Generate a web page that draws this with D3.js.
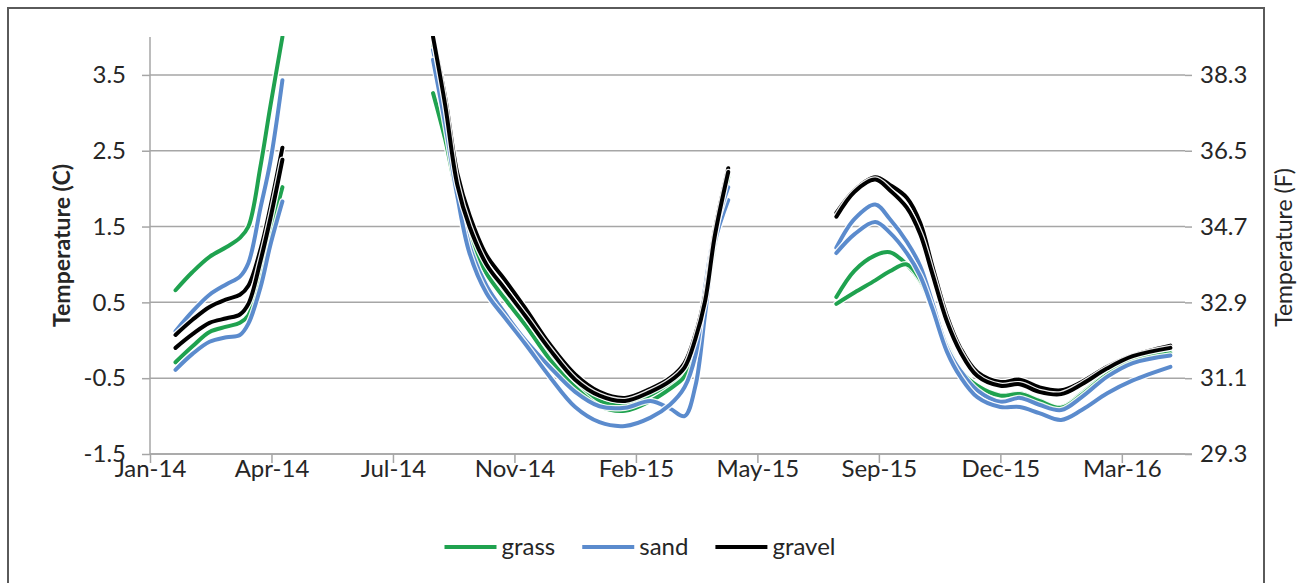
<!DOCTYPE html>
<html>
<head>
<meta charset="utf-8">
<script src="https://cdn.jsdelivr.net/npm/d3@7"></script>
<style>
  body { margin: 0; background: #fff; }
  svg { display: block; }
  text { font-family: Lato, "Open Sans", sans-serif; fill: #262626; }
</style>
</head>
<body>
<svg id="chart" width="1303" height="583"></svg>
<script>
// Sampling dates; null entries mark gaps between logging periods
const dates = [
  "2014-01-31","2014-02-14","2014-02-28","2014-03-14","2014-03-25","2014-04-01","2014-04-11","2014-04-19","2014-04-29",
  null,
  "2014-08-31","2014-09-10","2014-09-20","2014-09-30","2014-10-14","2014-10-29","2014-11-15","2014-12-05","2014-12-26",
  "2015-01-15","2015-02-05","2015-02-26","2015-03-14","2015-03-26","2015-04-04","2015-04-12","2015-04-20","2015-05-01",
  null,
  "2015-07-29","2015-08-13","2015-08-30","2015-09-11","2015-09-25","2015-10-06","2015-10-16","2015-10-28","2015-11-08",
  "2015-11-22","2015-12-11","2015-12-27","2016-01-12","2016-01-30","2016-02-16","2016-03-08","2016-03-29","2016-04-29"
];

// Temperatures (C), two sensors per surface
const grass1 = [
  0.66, 0.90, 1.10, 1.23, 1.35, 1.50, 2.30, 3.08, 4.00,
  null,
  3.90, 3.05, 2.10, 1.50, 0.98, 0.65, 0.30, -0.15, -0.55, -0.80, -0.86, -0.72, -0.58, -0.42, -0.05, 0.50, 1.30, 2.20,
  null,
  0.57, 0.92, 1.12, 1.16, 1.00, 0.78, 0.42, -0.05, -0.38, -0.60, -0.72, -0.70, -0.79, -0.88, -0.70, -0.43, -0.26, -0.15
];
const grass2 = [
  -0.29, -0.08, 0.11, 0.18, 0.23, 0.33, 0.85, 1.40, 2.02,
  null,
  3.26, 2.65, 1.90, 1.35, 0.88, 0.55, 0.20, -0.25, -0.62, -0.87, -0.93, -0.80, -0.64, -0.48, -0.12, 0.45, 1.25, 2.15,
  null,
  0.48, 0.63, 0.79, 0.91, 1.00, 0.80, 0.45, -0.08, -0.40, -0.60, -0.73, -0.71, -0.80, -0.89, -0.72, -0.45, -0.27, -0.17
];
const sand1 = [
  0.12, 0.38, 0.60, 0.74, 0.84, 1.02, 1.75, 2.35, 3.43,
  null,
  3.83, 3.00, 2.00, 1.25, 0.72, 0.36, 0.00, -0.35, -0.68, -0.87, -0.89, -0.80, -0.90, -1.00, -0.60, 0.35, 1.30, 1.85,
  null,
  1.22, 1.60, 1.79, 1.60, 1.30, 0.98, 0.50, -0.10, -0.40, -0.66, -0.81, -0.76, -0.85, -0.92, -0.75, -0.48, -0.30, -0.20
];
const sand2 = [
  -0.39, -0.18, -0.02, 0.04, 0.07, 0.22, 0.70, 1.25, 1.83,
  null,
  3.70, 2.85, 1.90, 1.15, 0.62, 0.30, -0.05, -0.48, -0.88, -1.08, -1.13, -1.02, -0.85, -0.62, -0.20, 0.70, 1.45, 2.02,
  null,
  1.15, 1.40, 1.56, 1.42, 1.15, 0.85, 0.42, -0.15, -0.48, -0.75, -0.88, -0.88, -0.96, -1.05, -0.92, -0.70, -0.53, -0.35
];
const gravel1 = [
  0.07, 0.27, 0.44, 0.54, 0.60, 0.72, 1.20, 1.75, 2.54,
  null,
  4.00, 3.20, 2.20, 1.65, 1.12, 0.80, 0.42, -0.05, -0.45, -0.68, -0.76, -0.64, -0.50, -0.30, 0.08, 0.60, 1.45, 2.27,
  null,
  1.68, 1.98, 2.15, 2.05, 1.88, 1.55, 0.98, 0.32, -0.10, -0.42, -0.55, -0.52, -0.62, -0.66, -0.55, -0.35, -0.20, -0.07
];
const gravel2 = [
  -0.10, 0.08, 0.23, 0.29, 0.34, 0.48, 1.05, 1.60, 2.38,
  null,
  4.00, 3.10, 2.05, 1.50, 1.00, 0.68, 0.32, -0.12, -0.52, -0.73, -0.80, -0.68, -0.54, -0.36, 0.02, 0.52, 1.38, 2.22,
  null,
  1.63, 1.96, 2.12, 1.98, 1.75, 1.40, 0.88, 0.25, -0.15, -0.47, -0.60, -0.58, -0.68, -0.71, -0.58, -0.37, -0.21, -0.10
];

// Axis ticks
const celsiusTicks = [-1.5, -0.5, 0.5, 1.5, 2.5, 3.5];
const fahrenheitTicks = [29.3, 31.1, 32.9, 34.7, 36.5, 38.3];
const dateTicks = ["2014-01-10","2014-04-20","2014-07-29","2014-11-06","2015-02-14",
                   "2015-05-25","2015-09-02","2015-12-11","2016-03-20"];
const dateDomain = ["2014-01-10", "2016-05-11"];
const celsiusDomain = [-1.5, 4.0];

const surfaces = ["grass", "sand", "gravel"];
const seriesList = [
  { surface: "grass", values: grass1 },
  { surface: "grass", values: grass2 },
  { surface: "sand", values: sand1 },
  { surface: "sand", values: sand2 },
  { surface: "gravel", values: gravel1 },
  { surface: "gravel", values: gravel2 }
];

// ---- drawing ----
const colors = { grass: "#1fa24f", sand: "#5b8bcd", gravel: "#000000" };
const parse = d3.utcParse("%Y-%m-%d");
const fmt1 = d3.formatLocale({ decimal: ".", thousands: ",", grouping: [3], currency: ["", ""], minus: "-" }).format(".1f");
const svg = d3.select("#chart");
const plot = { left: 150, right: 1185, top: 37, bottom: 454 };
const gridColor = "#a6a6a6";

const x = d3.scaleUtc().domain(dateDomain.map(parse)).range([plot.left, plot.right]);
const y = d3.scaleLinear().domain(celsiusDomain).range([plot.bottom, plot.top]);
const yF = d3.scaleLinear().domain(celsiusDomain.map(c => c * 1.8 + 32)).range([plot.bottom, plot.top]);

// outer frame
svg.append("rect").attr("x", 8).attr("y", 8).attr("width", 1256).attr("height", 620)
  .attr("fill", "none").attr("stroke", "#5a5a5a").attr("stroke-width", 2);

// horizontal gridlines
svg.append("g").selectAll("line").data(celsiusTicks).join("line")
  .attr("x1", plot.left).attr("x2", plot.right)
  .attr("y1", d => y(d)).attr("y2", d => y(d))
  .attr("stroke", gridColor).attr("stroke-width", 1.5);

function styleAxis(g) {
  g.selectAll(".domain").attr("stroke", gridColor).attr("stroke-width", 1.5);
  g.selectAll(".tick line").attr("stroke", gridColor).attr("stroke-width", 1.5);
  g.selectAll(".tick text").style("font-size", "24px").attr("fill", "#262626")
    .style("font-family", "Lato, 'Open Sans', sans-serif");
}

// left axis (Celsius)
svg.append("g").attr("transform", `translate(${plot.left},0)`)
  .call(d3.axisLeft(y).tickValues(celsiusTicks).tickFormat(fmt1).tickSize(8).tickPadding(16).tickSizeOuter(0))
  .call(styleAxis)
  .call(g => g.select(".domain").attr("d", `M0,${plot.top}V${plot.bottom}`));

// right axis (Fahrenheit), no axis line
svg.append("g").attr("transform", `translate(${plot.right},0)`)
  .call(d3.axisRight(yF).tickValues(fahrenheitTicks).tickFormat(fmt1).tickSize(7).tickPadding(8).tickSizeOuter(0))
  .call(styleAxis)
  .call(g => g.select(".domain").remove());

// bottom axis (dates)
svg.append("g").attr("transform", `translate(0,${plot.bottom})`)
  .call(d3.axisBottom(x).tickValues(dateTicks.map(parse)).tickFormat(d3.utcFormat("%b-%y")).tickSize(9).tickSizeOuter(0))
  .call(styleAxis)
  .call(g => g.select(".domain").attr("d", `M${plot.left},0H${plot.right + 7}`))
  .call(g => g.selectAll(".tick text").attr("y", 23).attr("dy", null));

// axis titles
svg.append("text").attr("transform", `translate(61,${(plot.top + plot.bottom) / 2}) rotate(-90)`)
  .attr("text-anchor", "middle").attr("dominant-baseline", "central")
  .style("font-size", "23px").style("font-weight", "bold").text("Temperature (C)");
svg.append("text").attr("transform", `translate(1283,${(plot.top + plot.bottom) / 2 + 2}) rotate(-90)`)
  .attr("text-anchor", "middle").attr("dominant-baseline", "central")
  .style("font-size", "23px").text("Temperature (F)");

// series lines
svg.append("clipPath").attr("id", "plotClip").append("rect")
  .attr("x", plot.left).attr("y", plot.top - 1).attr("width", plot.right - plot.left).attr("height", plot.bottom - plot.top + 1);

const line = d3.line()
  .defined(d => d.v != null)
  .x(d => x(d.date))
  .y(d => y(d.v))
  .curve(d3.curveCatmullRom.alpha(0.5));

const linesG = svg.append("g").attr("clip-path", "url(#plotClip)");
seriesList.forEach(s => {
  const pts = dates.map((dt, i) => ({ date: dt ? parse(dt) : null, v: dt ? s.values[i] : null }));
  linesG.append("path").attr("d", line(pts)).attr("fill", "none")
    .attr("stroke", "#fff").attr("stroke-width", 6.5).attr("stroke-opacity", 0.9)
    .attr("stroke-linejoin", "round").attr("stroke-linecap", "round");
  linesG.append("path").attr("d", line(pts)).attr("fill", "none")
    .attr("stroke", colors[s.surface]).attr("stroke-width", 4)
    .attr("stroke-linejoin", "round").attr("stroke-linecap", "round");
});

// legend
const legend = svg.append("g");
const legendY = 547, swatch = 52, swatchGap = 5, itemGap = 27;
let lx = 0;
surfaces.forEach(name => {
  const g = legend.append("g");
  g.append("line").attr("x1", 0).attr("x2", swatch).attr("y1", legendY).attr("y2", legendY)
    .attr("stroke", colors[name]).attr("stroke-width", 4);
  const t = g.append("text").attr("x", swatch + swatchGap).attr("y", legendY + 8)
    .style("font-size", "24px").text(name);
  const w = swatch + swatchGap + t.node().getComputedTextLength();
  g.attr("transform", `translate(${lx},0)`);
  lx += w + itemGap;
});
const totalW = lx - itemGap;
legend.attr("transform", `translate(${640 - totalW / 2},0)`);
</script>
</body>
</html>
